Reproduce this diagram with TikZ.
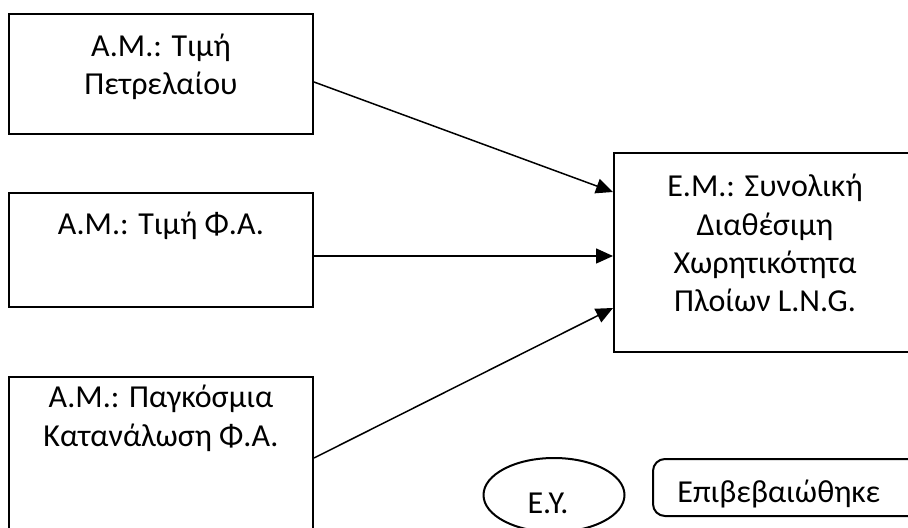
\documentclass[tikz,border=0pt]{standalone}
\usepackage{fontspec}
\setmainfont{Carlito}
\usetikzlibrary{arrows.meta,shapes.geometric}

\begin{document}
\begin{tikzpicture}[x=0.5pt, y=-0.5pt, box/.style={draw, line width=1pt,
      inner sep=0pt}, txt/.style={align=center, inner sep=0pt,
      font=\fontsize{16}{19.2}\selectfont}]
    \clip (0,0) rectangle (908,528);
    \begin{scope}[every node/.style={box}]
      \node [minimum width=152pt, minimum height=60pt] (0) at (161,74)
      {}; \node [minimum width=152pt, minimum height=57pt] (1) at
      (161,250) {}; \node [minimum width=152pt, minimum height=91.5pt]
      (2) at (161,468.5) {}; \node [minimum width=151pt, minimum
      height=99.5pt] (3) at (765,252.5) {};
      \node [ellipse, minimum width=70.5pt, minimum height=37pt] (4) at
      (554,495) {}; \node [rounded corners=6pt, minimum width=138.5pt,
      minimum height=28.5pt] (5) at (791.5,487.5) {};
    \end{scope}
    % base of a node with several lines = its last line
    \begin{scope}[every node/.style={txt, anchor=base}]
      \node (t0) at (161,95) {Α.Μ.: Τιμή\\Πετρελαίου}; \node (t1) at
      (161,235) {Α.Μ.: Τιμή Φ.Α.}; \node (t2) at (161,446) {Α.Μ.:
        Παγκόσμια\\Κατανάλωση Φ.Α.}; \node (t3) at (765,312) {Ε.Μ.:
        Συνολική\\Διαθέσιμη\\Χωρητικότητα\\Πλοίων L.N.G.};
      \node (t4) at (548,513) {Ε.Υ.}; \node [anchor=base west] (t5) at
      (677,502) {Επιβεβαιώθηκε};
    \end{scope}
    \begin{scope}[-{Triangle[length=8.5pt, width=7.5pt]}, line width=0.75pt]
      \draw ([yshift=-4pt]0.east) -- ([yshift=30.25pt]3.west); \draw
      ([yshift=-3pt]1.east) -- ([yshift=-1.75pt]3.west); \draw
      ([yshift=5.25pt]2.east) -- ([yshift=-27.75pt]3.west);
    \end{scope}
  \end{tikzpicture}
\end{document}
